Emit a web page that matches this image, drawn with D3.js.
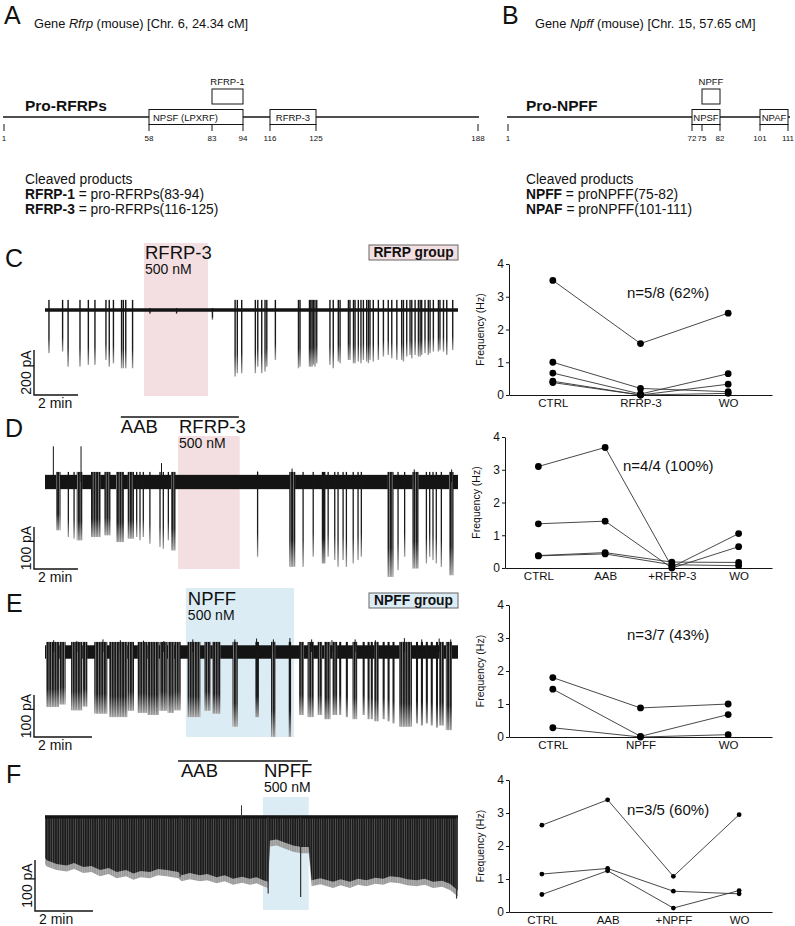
<!DOCTYPE html>
<html><head><meta charset="utf-8">
<script src="https://cdn.jsdelivr.net/npm/d3@7"></script>
<style>body{margin:0;background:#fff} svg{display:block} text{font-family:"Liberation Sans",Arial,Helvetica,sans-serif;fill:#111}</style>
</head><body><svg id="fig" width="795" height="926"></svg>
<script>
// ================= DATA =================
// Panel A / B : precursor schematics (residue numbers)
const rfrpTicks = [1, 58, 83, 94, 116, 125, 188];
const rfrpBoxes = [
  {label: "NPSF (LPXRF)", from: 58, to: 94, row: 0, place: "left"},
  {label: "RFRP-1", from: 83, to: 94, row: 1, place: "above"},
  {label: "RFRP-3", from: 116, to: 125, row: 0, place: "center"}
];
const npffTicks = [1, 72, 75, 82, 101, 111];
const npffBoxes = [
  {label: "NPSF", from: 72, to: 82, row: 0, place: "center"},
  {label: "NPFF", from: 75, to: 82, row: 1, place: "above"},
  {label: "NPAF", from: 101, to: 111, row: 0, place: "center"}
];
const rfrpProducts = [["RFRP-1", " = pro-RFRPs(83-94)"], ["RFRP-3", " = pro-RFRPs(116-125)"]];
const npffProducts = [["NPFF", " = proNPFF(75-82)"], ["NPAF", " = proNPFF(101-111)"]];

// Frequency plots (Hz)
const yTicks = [0, 1, 2, 3, 4];
const cCats = ["CTRL", "RFRP-3", "WO"];
const cSeries = [[3.5, 1.57, 2.5], [1.0, 0.2, 0.1], [0.67, 0.03, 0.65], [0.42, 0.0, 0.33], [0.38, 0.0, 0.05]];
const dCats = ["CTRL", "AAB", "+RFRP-3", "WO"];
const dSeries = [[3.1, 3.68, 0.03, 1.05], [1.35, 1.43, 0.0, 0.65], [0.38, 0.47, 0.18, 0.17], [0.37, 0.43, 0.1, 0.07]];
const eCats = ["CTRL", "NPFF", "WO"];
const eSeries = [[1.8, 0.88, 1.0], [1.45, 0.02, 0.68], [0.28, 0.0, 0.07]];
const fCats = ["CTRL", "AAB", "+NPFF", "WO"];
const fSeries = [[2.63, 3.4, 1.08, 2.95], [1.15, 1.32, 0.63, 0.55], [0.53, 1.25, 0.12, 0.65]];
const nLabels = ["n=5/8 (62%)", "n=4/4 (100%)", "n=3/7 (43%)", "n=3/5 (60%)"];

// Recordings: time in min, current in pA (downward = inward)
const traceDur = [18.77, 18.79, 14.25, 14.25];            // C, D, E, F
const drugC = [4.5, 7.41];                                   // RFRP-3 application
const aabD = [3.45, 8.82], drugD = [6.05, 8.86];
const drugE = [4.86, 8.59];
const aabF = [4.59, 9.07], drugF = [7.52, 9.1];
// C: single events [t, amplitude]
const eventsC = [[0.18,192],[0.8,185],[1.05,252],[1.59,252],[1.97,244],[2.27,244],[2.77,222],[2.92,252],[3.11,237],
  [3.48,259],[3.56,259],[3.67,259],[3.98,259],[4.77,18],[5.98,18],[7.61,44],[8.64,296],[8.74,281],[8.94,281],[9.56,281],
  [9.67,252],[9.85,281],[10.0,274],[10.08,252],[10.47,222],[11.52,259],[11.59,252],[12.02,252],[12.08,252],[12.14,252],
  [12.2,244],[12.27,252],[12.35,237],[12.95,244],[13.1,259],[13.33,229],[13.41,237],[13.79,222],[13.86,222],[14.02,237],
  [14.09,237],[14.24,229],[14.36,237],[14.47,222],[14.62,229],[14.7,237],[14.77,222],[14.92,229],[15.15,222],[15.38,207],
  [15.6,200],[15.76,215],[15.99,222],[16.21,222],[16.29,229],[16.44,207],[16.59,200],[16.67,215],[16.82,200],[16.97,207],
  [17.05,207],[17.12,200],[17.27,192],[17.42,200],[17.5,192],[17.65,185],[17.88,185],[17.95,178],[18.11,185],[18.26,200],[18.53,178]];
// D: bursts [tStart, tEnd, amplitude]
const burstsD = [[0.53,0.68,115],[1.06,1.06,131],[1.32,1.32,135],[1.47,1.67,139],[2.12,2.5,131],[2.73,2.95,127],[3.26,3.56,143],
  [3.79,4.02,135],[4.17,4.17,131],[4.32,4.32,139],[4.47,4.47,131],[4.77,4.77,147],[5.23,5.23,155],[5.38,5.38,159],[5.61,5.61,139],
  [5.76,5.91,163],[9.67,9.67,178],[11.14,11.36,202],[11.74,11.74,202],[12.2,12.2,178],[12.62,12.73,194],[12.88,12.88,178],
  [13.18,13.18,186],[13.33,13.33,202],[13.56,13.56,186],[13.71,13.71,202],[14.02,14.02,194],[14.24,14.24,186],[14.39,14.39,178],
  [15.61,15.83,226],[16.06,16.06,210],[16.36,16.36,178],[16.74,16.97,206],[17.35,17.35,194],[17.5,17.5,178],[17.65,17.65,186],
  [17.8,17.8,194],[18.03,18.03,202],[18.41,18.56,222]];
const upsD = [[0.38,85],[1.64,85],[5.3,45],[9.67,25],[11.24,32],[16.8,30],[18.5,30]];
// E: bursts [tStart, tEnd, amplitude]
const burstsE = [[0.06,0.46,131],[0.52,0.69,125],[0.92,1.26,139],[1.32,1.44,130],[1.72,2.13,147],[2.24,2.82,155],[2.87,3.05,140],
  [3.22,3.51,145],[3.56,3.91,150],[3.97,4.2,140],[4.25,4.43,145],[4.48,4.66,139],[4.94,5.34,155],[5.52,5.69,140],[5.8,6.03,147],
  [6.49,6.63,178],[7.28,7.36,155],[7.82,7.93,202],[8.43,8.47,202],[8.79,8.91,150],[9.08,9.25,155],[9.43,9.54,150],[9.66,9.83,160],
  [9.94,10.06,150],[10.17,10.2,150],[10.4,10.43,155],[10.63,10.75,160],[10.98,11.01,150],[11.15,11.18,160],[11.26,11.29,160],
  [11.38,11.49,165],[11.67,11.7,160],[11.84,11.87,165],[12.01,12.04,170],[12.24,12.64,178],[12.82,12.85,170],[12.99,13.02,175],
  [13.16,13.19,170],[13.33,13.36,175],[13.51,13.54,180],[13.62,13.74,175],[13.85,14.02,186]];
const upsE = [[0.3,28],[1.1,26],[2.0,30],[2.6,28],[3.4,27],[4.1,26],[5.1,30],[6.55,30],[7.3,32],[7.88,30],[8.45,33],
  [9.2,30],[9.9,28],[10.7,30],[11.4,28],[12.4,33],[13.0,30],[13.6,32],[14.0,30]];
// F: envelope of the dense event train [t, depth] and isolated deep events [t, amplitude]
const envelopeF = [[0.0,80],[0.06,85],[0.4,92],[0.75,95],[1.0,90],[1.32,98],[1.6,96],[1.9,104],[2.2,100],[2.47,108],[2.8,104],
  [3.05,111],[3.3,106],[3.62,108],[3.9,102],[4.2,104],[4.6,108],[4.71,114],[5.0,110],[5.34,114],[5.6,112],[5.92,118],[6.2,114],
  [6.49,121],[6.8,117],[7.07,121],[7.3,118],[7.53,124],[7.7,127],[7.76,46],[8.0,44],[8.22,49],[8.56,56],[8.85,59],[9.1,59],
  [9.2,124],[9.5,120],[9.94,127],[10.2,122],[10.52,127],[10.8,121],[11.09,124],[11.4,119],[11.67,121],[11.9,116],[12.24,118],
  [12.5,122],[12.82,124],[13.1,121],[13.39,127],[13.7,125],[13.97,131],[14.25,144]];
const spikesF = [[4.66,118],[7.7,150],[8.82,157],[14.2,160]];
const upsF = [[6.78,23]];

// ================= DRAWING =================
const svg = d3.select("#fig");
svg.append("rect").attr("width", 795).attr("height", 926).attr("fill", "#fff");
const PINK = "#f3dfe1", BLUE = "#dbecf5", INK = "#141414";

const defs = svg.append("defs");
// vertical fade used for inward events (dark near baseline, grey at the tips)
const fade = defs.append("linearGradient").attr("id", "fade").attr("x1", 0).attr("y1", 0).attr("x2", 0).attr("y2", 1);
[[0, INK], [0.72, "#1c1c1c"], [1, "#a0a0a0"]].forEach(([o, c]) => fade.append("stop").attr("offset", o).attr("stop-color", c));
// thin light gaps between individual events of a burst
const gap = defs.append("pattern").attr("id", "gaps").attr("patternUnits", "userSpaceOnUse").attr("width", 2.6).attr("height", 20);
gap.append("rect").attr("x", 1.9).attr("width", 0.7).attr("height", 20).attr("fill", "#fff").attr("opacity", 0.55);
const gapF = defs.append("pattern").attr("id", "gapsF").attr("patternUnits", "userSpaceOnUse").attr("width", 2.3).attr("height", 20);
gapF.append("rect").attr("x", 1.7).attr("width", 0.6).attr("height", 20).attr("fill", "#fff").attr("opacity", 0.3);

// ---- panel letters
[["A",4,24],["B",502,24],["C",5,267],["D",5,437],["E",6,612],["F",6,783]].forEach(([l,x,y]) =>
  svg.append("text").attr("x", x).attr("y", y).attr("font-size", 25).text(l));

// ---- A / B schematics
function drawMap(ticks, pxRange, boxes, lineEnds, gene, chr, titleX, pro, products) {
  const s = d3.scaleLinear().domain(ticks).range(pxRange);
  const g = svg.append("g");
  const t = g.append("text").attr("x", titleX).attr("y", 28).attr("font-size", 12.8);
  t.append("tspan").text("Gene ");
  t.append("tspan").attr("font-style", "italic").text(gene);
  t.append("tspan").text(" (mouse) [" + chr + "]");
  g.append("text").attr("x", titleX - 9).attr("y", 111).attr("font-size", 15.5).attr("font-weight", "bold").text(pro);
  const lineY = 117;
  g.append("line").attr("x1", lineEnds[0]).attr("x2", lineEnds[1]).attr("y1", lineY).attr("y2", lineY)
    .attr("stroke", INK).attr("stroke-width", 1.6);
  g.selectAll(".tk").data(ticks).join("line").attr("x1", d => s(d)).attr("x2", d => s(d))
    .attr("y1", 124).attr("y2", 131).attr("stroke", INK).attr("stroke-width", 1);
  g.selectAll(".tl").data(ticks).join("text").attr("x", d => s(d)).attr("y", 141)
    .attr("text-anchor", "middle").attr("font-size", 8).text(d => d);
  boxes.forEach(b => {
    const y0 = b.row === 0 ? 109.5 : 89, h = 15;
    g.append("rect").attr("x", s(b.from)).attr("y", y0).attr("width", s(b.to) - s(b.from)).attr("height", h)
      .attr("fill", "#fff").attr("stroke", INK).attr("stroke-width", 1);
    const tx = g.append("text").attr("font-size", 9.5).text(b.label);
    if (b.place === "left") tx.attr("x", s(b.from) + 4).attr("y", y0 + 11);
    else if (b.place === "center") tx.attr("x", (s(b.from) + s(b.to)) / 2).attr("y", y0 + 11).attr("text-anchor", "middle");
    else tx.attr("x", (s(b.from) + s(b.to)) / 2).attr("y", y0 - 4).attr("text-anchor", "middle");
  });
  g.append("text").attr("x", titleX - 9).attr("y", 184).attr("font-size", 13.8).text("Cleaved products");
  products.forEach((p, i) => {
    const tt = g.append("text").attr("x", titleX - 9).attr("y", 199 + i * 15).attr("font-size", 13.8);
    tt.append("tspan").attr("font-weight", "bold").text(p[0]);
    tt.append("tspan").text(p[1]);
  });
}
drawMap(rfrpTicks, [4, 149, 212, 243, 270, 316, 478], rfrpBoxes, [3, 479], "Rfrp", "Chr. 6, 24.34 cM", 34, "Pro-RFRPs", rfrpProducts);
drawMap(npffTicks, [508, 692, 702, 720, 760, 788], npffBoxes, [507, 790], "Npff", "Chr. 15, 57.65 cM", 535, "Pro-NPFF", npffProducts);

// ---- traces
function traceScales(i, baseY, pxPer100) {
  const x = d3.scaleLinear().domain([0, traceDur[i]]).range([45, 458]);
  const y = d3.scaleLinear().domain([0, 100]).range([baseY, baseY + pxPer100]);
  return {x, y};
}
function shade(g, sc, span, top, bottom, color) {
  g.append("rect").attr("x", sc.x(span[0])).attr("width", sc.x(span[1]) - sc.x(span[0]))
    .attr("y", top).attr("height", bottom - top).attr("fill", color);
}
function scaleBar(g, sc, pA, mins, left, bottom) {
  const h = sc.y(pA) - sc.y(0), w = sc.x(mins) - sc.x(0);
  g.append("path").attr("d", `M${left},${bottom - h}V${bottom}H${left + w}`).attr("fill", "none")
    .attr("stroke", INK).attr("stroke-width", 1.4);
  g.append("text").attr("transform", `translate(${left - 3},${bottom - h / 2}) rotate(-90)`)
    .attr("text-anchor", "middle").attr("font-size", 14).text(pA + " pA");
  g.append("text").attr("x", left + 4).attr("y", bottom + 13).attr("font-size", 14).text(mins + " min");
}
function drugLabel(g, x, y, name) {
  g.append("text").attr("x", x).attr("y", y).attr("font-size", 18.5).text(name);
  g.append("text").attr("x", x).attr("y", y + 15).attr("font-size", 14).text("500 nM");
}
function groupTag(g, top, label, color) {
  g.append("rect").attr("x", 369).attr("y", top).attr("width", 89).attr("height", 15)
    .attr("fill", color).attr("stroke", "#666").attr("stroke-width", 1);
  g.append("text").attr("x", 413.5).attr("y", top + 12).attr("text-anchor", "middle")
    .attr("font-size", 13.8).attr("font-weight", "bold").text(label);
}
// event trains: [tStart, tEnd, amp]; drawn from the upward overshoot to the inward peak
function bursts(g, sc, data, up) {
  const w = d => Math.max(sc.x(d[1]) - sc.x(d[0]) + 1.2, 1.3);
  g.selectAll(null).data(data).join("rect")
    .attr("x", d => sc.x(d[0]) - 0.6).attr("width", w)
    .attr("y", sc.y(-up)).attr("height", d => sc.y(d[2]) - sc.y(-up))
    .attr("fill", "url(#fade)");
  g.selectAll(null).data(data.filter(d => sc.x(d[1]) - sc.x(d[0]) > 2.5)).join("rect")
    .attr("x", d => sc.x(d[0]) - 0.6).attr("width", w)
    .attr("y", sc.y(-up)).attr("height", d => sc.y(d[2]) - sc.y(-up))
    .attr("fill", "url(#gaps)");
}

// C
{
  const g = svg.append("g"), sc = traceScales(0, 310, 22.5);
  shade(g, sc, drugC, 243, 396, PINK);
  drugLabel(g, sc.x(drugC[0]) + 1, 259, "RFRP-3");
  groupTag(g, 245, "RFRP group", PINK);
  g.selectAll(null).data(eventsC).join("rect")
    .attr("x", d => sc.x(d[0]) - 0.7).attr("width", 1.4)
    .attr("y", d => sc.y(d[1] > 100 ? -45 : -8)).attr("height", d => sc.y(d[1]) - sc.y(d[1] > 100 ? -45 : -8))
    .attr("fill", "url(#fade)");
  g.append("line").attr("x1", sc.x(0)).attr("x2", sc.x(traceDur[0])).attr("y1", sc.y(0)).attr("y2", sc.y(0))
    .attr("stroke", INK).attr("stroke-width", 3.6);
  scaleBar(g, sc, 200, 2, 34, 395);
}
// D
{
  const g = svg.append("g"), sc = traceScales(1, 482, 42);
  shade(g, sc, drugD, 436, 569, PINK);
  g.append("line").attr("x1", sc.x(aabD[0])).attr("x2", sc.x(aabD[1])).attr("y1", 417).attr("y2", 417)
    .attr("stroke", INK).attr("stroke-width", 1.5);
  g.append("text").attr("x", sc.x(aabD[0])).attr("y", 433).attr("font-size", 18.5).text("AAB");
  drugLabel(g, sc.x(drugD[0]) + 1, 433, "RFRP-3");
  g.append("rect").attr("x", sc.x(0)).attr("width", sc.x(traceDur[1]) - sc.x(0))
    .attr("y", sc.y(-17)).attr("height", sc.y(17) - sc.y(-17)).attr("fill", INK);
  bursts(g, sc, burstsD, 24);
  g.selectAll(null).data(upsD).join("line")
    .attr("x1", d => sc.x(d[0])).attr("x2", d => sc.x(d[0])).attr("y1", d => sc.y(-d[1])).attr("y2", sc.y(0))
    .attr("stroke", INK).attr("stroke-width", 1);
  scaleBar(g, sc, 100, 2, 34, 569);
}
// E
{
  const g = svg.append("g"), sc = traceScales(2, 652, 42);
  shade(g, sc, drugE, 588, 737, BLUE);
  drugLabel(g, sc.x(drugE[0]) + 2, 605, "NPFF");
  groupTag(g, 593, "NPFF group", BLUE);
  g.append("rect").attr("x", sc.x(0)).attr("width", sc.x(traceDur[2]) - sc.x(0))
    .attr("y", sc.y(-16)).attr("height", sc.y(16) - sc.y(-16)).attr("fill", INK);
  bursts(g, sc, burstsE, 24);
  g.selectAll(null).data(upsE).join("line")
    .attr("x1", d => sc.x(d[0])).attr("x2", d => sc.x(d[0])).attr("y1", d => sc.y(-d[1])).attr("y2", sc.y(0))
    .attr("stroke", INK).attr("stroke-width", 1);
  scaleBar(g, sc, 100, 2, 34, 737);
}
// F
{
  const g = svg.append("g"), sc = traceScales(3, 817, 51);
  shade(g, sc, drugF, 797, 910, BLUE);
  g.append("line").attr("x1", sc.x(aabF[0])).attr("x2", sc.x(aabF[1])).attr("y1", 761).attr("y2", 761)
    .attr("stroke", INK).attr("stroke-width", 1.5);
  g.append("text").attr("x", sc.x(aabF[0]) + 3).attr("y", 777).attr("font-size", 18.5).text("AAB");
  drugLabel(g, sc.x(drugF[0]) + 1, 777, "NPFF");
  const tail = d3.area().x(d => sc.x(d[0])).y0(sc.y(-3)).y1(d => sc.y(d[1] + 12));
  g.append("path").attr("d", tail(envelopeF)).attr("fill", "#9a9a9a");
  const body = d3.area().x(d => sc.x(d[0])).y0(sc.y(-3)).y1(d => sc.y(d[1]));
  g.append("path").attr("d", body(envelopeF)).attr("fill", "#1c1c1c");
  g.append("path").attr("d", tail(envelopeF)).attr("fill", "url(#gapsF)");
  g.append("line").attr("x1", sc.x(0)).attr("x2", sc.x(traceDur[3])).attr("y1", sc.y(0)).attr("y2", sc.y(0))
    .attr("stroke", INK).attr("stroke-width", 3);
  g.selectAll(null).data(spikesF).join("line")
    .attr("x1", d => sc.x(d[0])).attr("x2", d => sc.x(d[0])).attr("y1", sc.y(0)).attr("y2", d => sc.y(d[1]))
    .attr("stroke", "#333").attr("stroke-width", 1.2);
  g.selectAll(null).data(upsF).join("line")
    .attr("x1", d => sc.x(d[0])).attr("x2", d => sc.x(d[0])).attr("y1", d => sc.y(-d[1])).attr("y2", sc.y(0))
    .attr("stroke", "#333").attr("stroke-width", 1);
  scaleBar(g, sc, 100, 2, 35, 911);
}

// ---- frequency plots
function plot(cats, series, nText, left, right, y0, y4, r) {
  const g = svg.append("g");
  const y = d3.scaleLinear().domain([0, 4]).range([y0, y4]);
  const x = d3.scalePoint().domain(cats).range([left, right]).padding(0.5);
  const ya = g.append("g").attr("transform", `translate(${left},0)`)
    .call(d3.axisLeft(y).tickValues(yTicks).tickFormat(d3.format("d")).tickSize(3).tickSizeOuter(0).tickPadding(2));
  ya.selectAll("text").attr("font-size", 12).attr("font-family", "'Liberation Sans',Arial,sans-serif").attr("fill", "#111");
  const xa = g.append("g").attr("transform", `translate(0,${y0})`)
    .call(d3.axisBottom(x).tickSize(0).tickSizeOuter(0).tickPadding(4));
  xa.selectAll("text").attr("font-size", 11.5).attr("font-family", "'Liberation Sans',Arial,sans-serif").attr("fill", "#111");
  g.selectAll(".domain").attr("stroke", INK).attr("stroke-width", 1);
  g.selectAll(".tick line").attr("stroke", INK);
  g.append("text").attr("transform", `translate(${left - 25},${(y0 + y4) / 2}) rotate(-90)`)
    .attr("text-anchor", "middle").attr("font-size", 10.5).text("Frequency (Hz)");
  const line = d3.line().x((d, i) => x(cats[i])).y(d => y(d));
  g.selectAll(".ln").data(series).join("path").attr("d", line).attr("fill", "none")
    .attr("stroke", "#333").attr("stroke-width", 0.9);
  series.forEach(s => g.selectAll(null).data(s).join("circle")
    .attr("cx", (d, i) => x(cats[i])).attr("cy", d => y(d)).attr("r", r).attr("fill", "#000"));
  g.append("text").attr("x", left + 118).attr("y", y(2.95)).attr("font-size", 15).text(nText);
}
plot(cCats, cSeries, nLabels[0], 509, 772, 395, 264, 3.4);
plot(dCats, dSeries, nLabels[1], 505, 772, 568, 437, 3.4);
plot(eCats, eSeries, nLabels[2], 509, 772, 737, 605, 3.4);
plot(fCats, fSeries, nLabels[3], 509, 772, 912, 780, 2.4);
</script></body></html>
